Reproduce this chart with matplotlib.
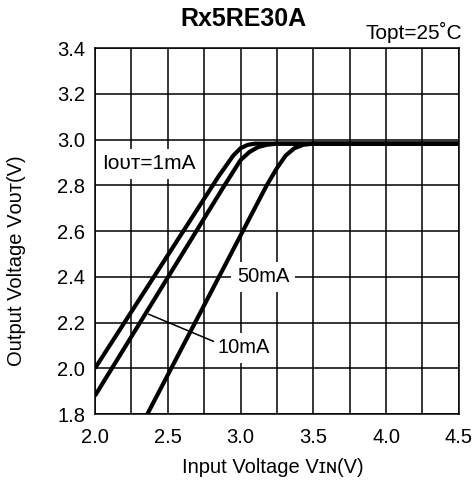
import numpy as np
import matplotlib
matplotlib.use("Agg")
import matplotlib.pyplot as plt
from matplotlib.ticker import MultipleLocator

plt.rcParams["font.family"] = ["Liberation Sans", "DejaVu Sans"]

# (Vin, Vout)
vin_1ma = [2.0, 2.85, 2.9, 2.95, 3.0, 3.05, 3.1, 4.5]
vout_1ma = [2.0, 2.84, 2.885, 2.93, 2.962, 2.977, 2.982, 2.982]

vin_10ma = [2.0, 2.89, 2.95, 3.0, 3.06, 3.12, 3.18, 3.25, 4.5]
vout_10ma = [1.88, 2.80, 2.86, 2.91, 2.945, 2.967, 2.977, 2.982, 2.982]

vin_50ma = [2.36, 3.18, 3.25, 3.31, 3.37, 3.43, 3.5, 4.5]
vout_50ma = [1.8, 2.80, 2.875, 2.93, 2.962, 2.977, 2.982, 2.982]

x_ticks = [2.0, 2.5, 3.0, 3.5, 4.0, 4.5]
y_ticks = [1.8, 2.0, 2.2, 2.4, 2.6, 2.8, 3.0, 3.2, 3.4]

fig = plt.figure(figsize=(4.75, 4.9), dpi=100)
ax = fig.add_axes([0.2, 0.155, 0.766, 0.747])

for vx, vy in [(vin_1ma, vout_1ma), (vin_10ma, vout_10ma), (vin_50ma, vout_50ma)]:
    ax.plot(vx, vy, color="black", linewidth=3, solid_capstyle="butt",
            solid_joinstyle="round", zorder=3)

ax.set_xlim(2.0, 4.5)
ax.set_ylim(1.8, 3.4)
ax.set_xticks(x_ticks)
ax.set_xticklabels([f"{v:.1f}" for v in x_ticks])
ax.set_yticks(y_ticks)
ax.set_yticklabels([f"{v:.1f}" for v in y_ticks])
ax.xaxis.set_minor_locator(MultipleLocator(0.25))
ax.grid(True, which="both", color="black", linewidth=1.1)
ax.tick_params(which="both", length=0, labelsize=14.5)
ax.tick_params(axis="x", pad=10)
ax.tick_params(axis="y", pad=7)
for sp in ax.spines.values():
    sp.set_linewidth(1.1)

ax.set_xlabel("Input Voltage Vɪɴ(V)", fontsize=14.5)
ax.set_ylabel("Output Voltage Vᴏᴜᴛ(V)", fontsize=14.5)
ax.xaxis.set_label_coords(0.49, -0.12)
ax.yaxis.set_label_coords(-0.19, 0.42)

box = dict(facecolor="white", edgecolor="none", pad=4)
ax.text(2.05, 2.894, "Iᴏᴜᴛ=1mA", fontsize=15, va="center", ha="left", bbox=box, zorder=4)
ax.text(2.975, 2.40, "50mA", fontsize=14.5, va="center", ha="left", bbox=box, zorder=4)
ax.text(2.84, 2.09, "10mA", fontsize=14.5, va="center", ha="left", bbox=box, zorder=4)
ax.plot([2.37, 2.813], [2.236, 2.118], color="black", linewidth=1.1, zorder=5)

fig.text(0.512, 0.961, "Rx5RE30A", fontsize=18, fontweight="bold", ha="center", va="center")
fig.text(0.973, 0.933, "Topt=25˚C", fontsize=15, ha="right", va="center")

fig.savefig("out.png", dpi=100)
